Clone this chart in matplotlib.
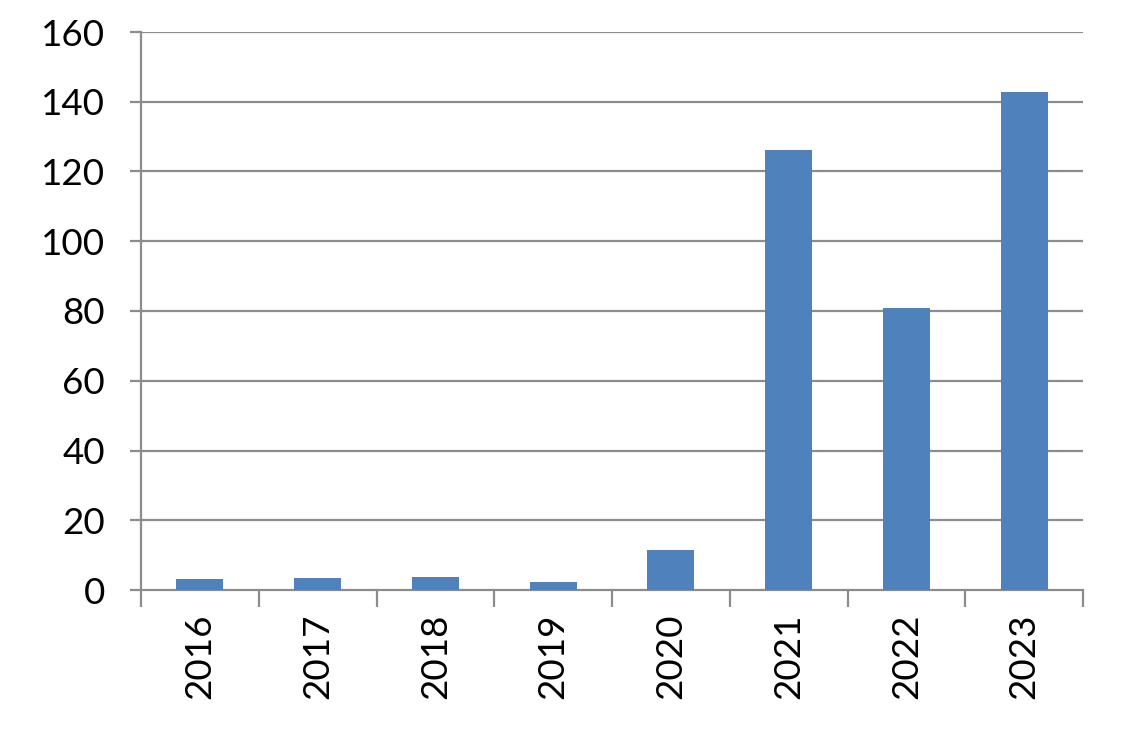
import matplotlib
matplotlib.use("Agg")
import matplotlib.pyplot as plt
import numpy as np

years = ["2016", "2017", "2018", "2019", "2020", "2021", "2022", "2023"]
values = [3.1, 3.4, 3.7, 2.2, 11.5, 126.3, 81.0, 142.8]
yticks = [0, 20, 40, 60, 80, 100, 120, 140, 160]

plt.rcParams['font.family'] = ['Lato', 'DejaVu Sans']

fig = plt.figure(figsize=(11.34, 7.38), dpi=100)
ax = fig.add_axes([141/1134, 1 - 590/738, (1083-141)/1134, (590-32)/738])

x = np.arange(len(years))
ax.bar(x, values, width=0.4, color="#4F81BD", zorder=3)

grid_c = "#8C8C8C"
ax.set_ylim(0, 160)
ax.set_xlim(-0.5, len(years) - 0.5)
ax.set_yticks(yticks)
ax.set_yticklabels([str(v) for v in yticks], fontsize=26.5)
for v in yticks[1:]:
    ax.axhline(v, color=grid_c, linewidth=1.6, zorder=1)

ax.set_xticks(x)
ax.set_xticklabels(years, rotation=90, fontsize=26.5)
ax.tick_params(axis='x', length=0, pad=17)
ax.set_xticks(np.arange(len(years) + 1) - 0.5, minor=True)
ax.tick_params(axis='x', which='minor', length=12, width=1.6, color=grid_c)
ax.tick_params(axis='y', length=8, width=1.6, color=grid_c, pad=18)

for s in ["top", "right"]:
    ax.spines[s].set_visible(False)
for s in ["left", "bottom"]:
    ax.spines[s].set_color(grid_c)
    ax.spines[s].set_linewidth(1.6)

fig.savefig("out.png", dpi=100, facecolor="white")
